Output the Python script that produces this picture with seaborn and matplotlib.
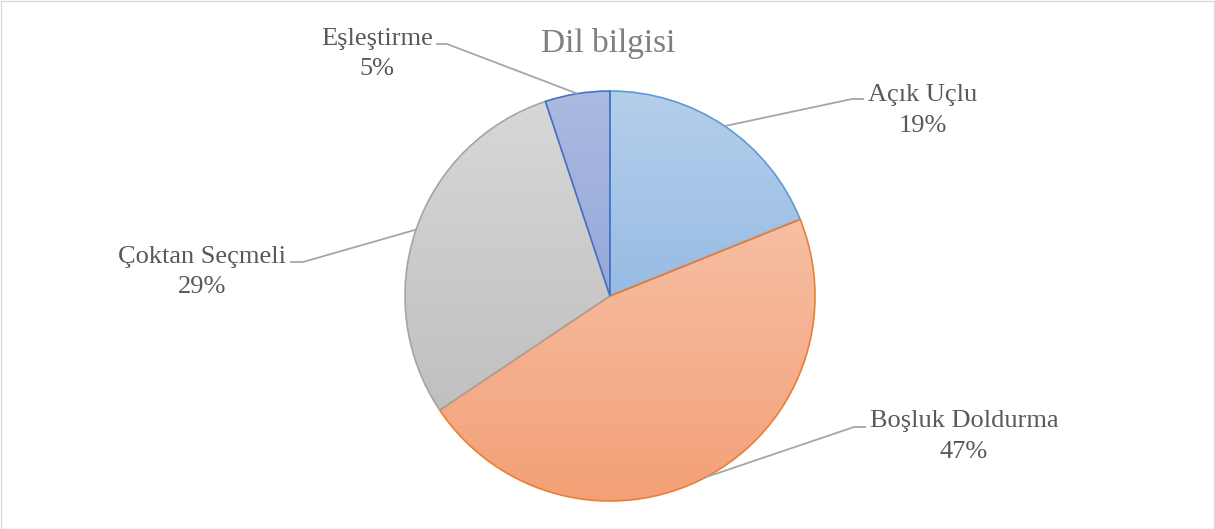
import numpy as np
import matplotlib
matplotlib.use("Agg")
import matplotlib.pyplot as plt
import seaborn as sns
from matplotlib.colors import LinearSegmentedColormap
from matplotlib.patches import Rectangle

# ---- data ----
categories = ["Açık Uçlu", "Boşluk Doldurma", "Çoktan Seçmeli", "Eşleştirme"]
values = [18.9, 46.7, 29.3, 5.1]
title = "Dil bilgisi"

# ---- styles ----
top_colors = ["#b5cfeb", "#f9cdb9", "#d8d8d8", "#abbae1"]
bottom_colors = ["#7aa7dd", "#f3a077", "#b9b9b9", "#7d97d2"]
edge_colors = ["#5b9bd5", "#ed7d31", "#a5a5a5", "#4472c4"]
# label layout: (text center x, last-line baseline y, leader y, elbow x, line end x) in pixels
label_layout = [
    (923, 132, 99, 852, 864),
    (964, 458, 427, 854, 866),
    (202, 293, 262, 303, 290),
    (377, 75, 44, 447, 436),
]

sns.set_theme(style="white")
plt.rcParams["font.family"] = ["Liberation Serif", "DejaVu Serif"]

W, H = 1215, 529
fig = plt.figure(figsize=(W / 100, H / 100), dpi=100)
ax = fig.add_axes([0, 0, 1, 1])

cx, cy, r = 610, 296, 205
wedges, _ = ax.pie(values, startangle=-90, counterclock=True,
                   center=(cx, cy), radius=r, frame=True,
                   wedgeprops=dict(linewidth=1.2))
ax.set_xlim(0, W)
ax.set_ylim(H, 0)
ax.set_aspect("equal")
ax.axis("off")

grad = np.linspace(0, 1, 256).reshape(-1, 1)
for w, tc, bc, ec in zip(wedges, top_colors, bottom_colors, edge_colors):
    cmap = LinearSegmentedColormap.from_list("g", [tc, bc])
    im = ax.imshow(grad, cmap=cmap, aspect="auto",
                   extent=(cx - r, cx + r, cy + r, cy - r),
                   origin="upper", zorder=w.get_zorder() + 0.1)
    im.set_clip_path(w)
    w.set_facecolor("none")
    w.set_edgecolor(ec)
    w.set_zorder(w.get_zorder() + 0.2)

ax.set_xlim(0, W)
ax.set_ylim(H, 0)

total = sum(values)
cum = 0
for i, (name, v) in enumerate(zip(categories, values)):
    mid = (cum + v / 2) / total * 2 * np.pi - np.pi / 2
    cum += v
    sx, sy = cx + r * np.cos(mid), cy + r * np.sin(mid)
    tx, by, ly, ex, lx = label_layout[i]
    ax.plot([sx, ex, lx], [sy, ly, ly], color="#a6a6a6", lw=1.3,
            solid_capstyle="butt", zorder=5)
    pct = round(v / total * 100)
    ax.text(tx, by, f"{name}\n{pct}%", ha="center", va="baseline",
            fontsize=19, color="#595959", linespacing=1.5)

ax.text(608, 52, title, ha="center", va="baseline", fontsize=24, color="#7f7f7f")

fig.patches.append(Rectangle((0.5 / W, 0.5 / H), 1 - 1.5 / W, 1 - 1.5 / H,
                             transform=fig.transFigure, fill=False,
                             edgecolor="#d9d9d9", linewidth=1))

fig.savefig("out.png", dpi=100)
